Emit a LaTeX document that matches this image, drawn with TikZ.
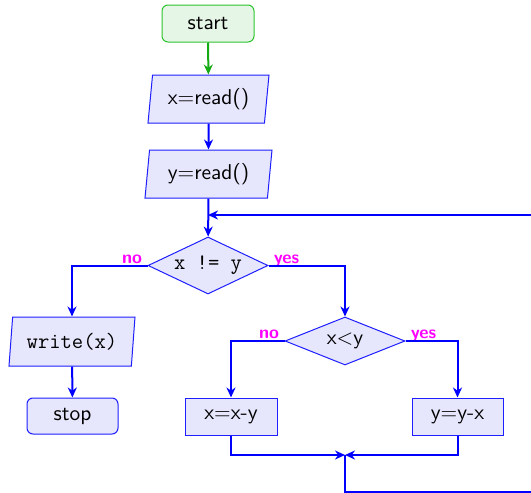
\documentclass[tikz,border=0pt]{standalone}
\usetikzlibrary{shapes.geometric,arrows.meta}
\definecolor{bfill}{RGB}{230,230,252}
\definecolor{bdraw}{RGB}{30,30,255}
\definecolor{gfill}{RGB}{230,246,230}
\definecolor{gdraw}{RGB}{45,195,45}
\definecolor{garrow}{RGB}{20,170,20}
\definecolor{lab}{RGB}{255,0,255}
\tikzset{
  basebox/.style={draw=bdraw, fill=bfill, line width=0.5pt, inner sep=0pt, font=\fontsize{10.7}{12.8}\selectfont\sffamily, text=black},
  ttfont/.style={font=\fontsize{11}{13}\selectfont\ttfamily},
  termbox/.style={basebox, rectangle, rounded corners=3pt},
  startbox/.style={termbox, draw=gdraw, fill=gfill},
  procbox/.style={basebox, rectangle},
  iobox/.style={basebox, trapezium, trapezium left angle=78, trapezium right angle=102, trapezium stretches body},
  decbox/.style={basebox, diamond},
  conn/.style={draw=blue, line width=1pt, -{Stealth[length=5pt,width=4.5pt,inset=1.6pt]}},
  lbl/.style={text=lab, font=\sffamily\bfseries\small, inner sep=1.2pt}
}
\begin{document}
\begin{tikzpicture}[x=0.5pt,y=-0.5pt]
\useasboundingbox (0,0) rectangle (531,493);
\clip (0,0) rectangle (531,493);
% nodes
\node[startbox, minimum width=46pt, minimum height=18.5pt] (start) at (208,23.5) {start};
\node[iobox, minimum width=60.5pt, minimum height=24pt] (xr) at (208.5,99) {x=read()};
\node[iobox, minimum width=63.5pt, minimum height=24pt] (yr) at (208.5,174) {y=read()};
\node[decbox, aspect=2.1, minimum width=60pt, minimum height=28.5pt, ttfont] (d1) at (208,265.5) {x != y};
\node[iobox, minimum width=63pt, minimum height=24.5pt, ttfont] (wr) at (72,341.5) {write(x)};
\node[termbox, minimum width=45.5pt, minimum height=18pt] (stop) at (72.5,416) {stop};
\node[decbox, aspect=2.5, minimum width=60pt, minimum height=24pt] (d2) at (345,341) {x<y};
\node[procbox, minimum width=46pt, minimum height=18.5pt] (xmy) at (231,416.5) {x=x-y};
\node[procbox, minimum width=45.5pt, minimum height=18.5pt] (ymx) at (457.5,416.5) {y=y-x};
% labels
\node[lbl, anchor=base east, xshift=-1.3pt, yshift=1.1pt] (l1) at (d1.west) {no};
\node[lbl, anchor=base west, xshift=1.3pt, yshift=1.1pt] (l2) at (d1.east) {yes};
\node[lbl, anchor=base east, xshift=-1.3pt, yshift=1.1pt] (l3) at (d2.west) {no};
\node[lbl, anchor=base west, xshift=1.3pt, yshift=1.1pt] (l4) at (d2.east) {yes};
% coordinates
\coordinate (m) at (345,455);
\coordinate (b1) at (345,491.5);
\coordinate (b2) at (560,491.5);
\coordinate (b3) at (560,215);
\coordinate (j) at (208,215);
% connectors
\draw[conn, draw=garrow] (start) -- (xr);
\draw[conn] (xr) -- (yr);
\draw[conn] (yr) -- (d1);
\draw[conn] (d1.west) -| (wr);
\draw[conn] (wr) -- (stop);
\draw[conn] (d1.east) -| (d2);
\draw[conn] (d2.west) -| (xmy);
\draw[conn] (d2.east) -| (ymx);
\draw[conn] (xmy) |- (m);
\draw[conn] (ymx) |- (m);
\draw[conn] (m) -- (b1) -- (b2) -- (b3) -- (j);
\end{tikzpicture}
\end{document}
